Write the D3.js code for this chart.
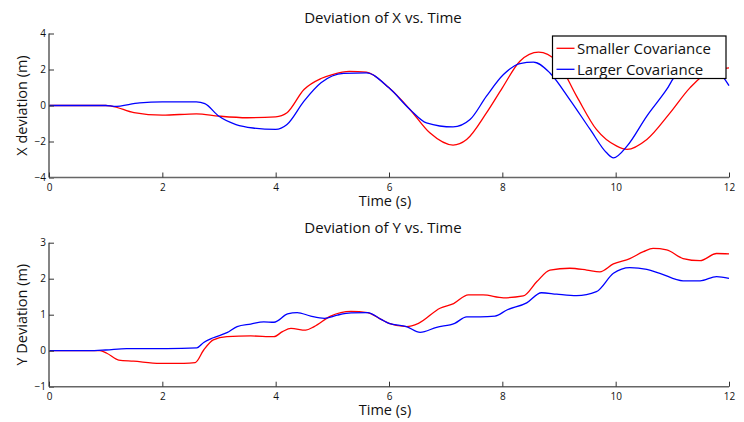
<!DOCTYPE html>
<html><head><meta charset="utf-8">
<script src="https://cdn.jsdelivr.net/npm/d3@7"></script>
<style>
body{margin:0;background:#fff;}
text{font-family:"Open Sans","Liberation Sans",sans-serif;fill:#111;}
</style></head>
<body><svg id="c" width="744" height="422"></svg>
<script>
// ---- data ----
const xTicks = [0,2,4,6,8,10,12];
const yTicksX = [-4,-2,0,2,4];
const yTicksY = [-1,0,1,2,3];
const seriesNames = ["Smaller Covariance","Larger Covariance"];

const tXRed = [0,0.5,1.0,1.1,1.5,2.0,2.6,3.0,3.5,4.0,4.2,4.5,4.8,5.0,5.3,5.6,6.0,6.37,6.72,7.13,7.37,7.72,8.0,8.31,8.64,8.96,9.31,9.66,10.02,10.2,10.55,10.96,11.31,11.66,12.0];
const xRed  = [0,0,0,-0.03,-0.4,-0.54,-0.46,-0.59,-0.68,-0.63,-0.4,0.89,1.5,1.72,1.9,1.85,0.98,-0.22,-1.52,-2.2,-1.89,-0.41,0.98,2.46,2.96,2.46,0.52,-1.33,-2.26,-2.44,-1.89,-0.41,0.98,1.9,2.09];
const tXBlue = [0,0.5,1.0,1.15,1.6,2.0,2.6,2.75,3.0,3.3,3.6,4.0,4.2,4.5,4.8,5.2,5.6,6.0,6.37,6.66,7.13,7.43,7.72,8.02,8.31,8.55,8.84,9.19,9.55,9.84,9.96,10.2,10.55,10.9,11.07,11.5,11.93,12.0];
const xBlue = [0,0,0,-0.05,0.15,0.2,0.2,0.1,-0.6,-1.06,-1.25,-1.33,-1.06,0.24,1.26,1.78,1.81,0.98,-0.22,-0.96,-1.19,-0.78,0.52,1.72,2.33,2.41,1.81,0.33,-1.33,-2.63,-2.91,-2.26,-0.59,0.89,1.72,2.35,1.44,1.1];

const tYRed = [0,0.5,0.9,1.02,1.23,1.49,1.96,2.38,2.58,2.73,2.9,3.14,3.56,3.97,4.12,4.27,4.53,4.68,4.97,5.33,5.62,5.86,6.0,6.31,6.52,6.9,7.14,7.4,7.66,8.02,8.37,8.61,8.84,9.19,9.49,9.72,9.96,10.25,10.49,10.66,10.9,11.19,11.49,11.78,12.0];
const yRed  = [0,0,0,-0.07,-0.26,-0.29,-0.35,-0.35,-0.33,0.02,0.3,0.39,0.41,0.39,0.53,0.62,0.57,0.67,0.96,1.09,1.06,0.87,0.76,0.67,0.76,1.18,1.31,1.55,1.55,1.47,1.52,1.92,2.24,2.29,2.24,2.19,2.41,2.56,2.75,2.84,2.8,2.56,2.5,2.7,2.69];
const tYBlue = [0,0.7,1.0,1.37,2.08,2.61,2.73,2.9,3.14,3.32,3.56,3.79,3.97,4.21,4.38,4.62,4.86,5.09,5.33,5.62,5.86,6.0,6.31,6.55,6.84,7.16,7.37,7.61,7.87,8.08,8.43,8.69,8.96,9.31,9.66,9.96,10.25,10.55,10.78,11.19,11.49,11.78,12.0];
const yBlue = [0,0,0.02,0.06,0.06,0.08,0.23,0.36,0.5,0.67,0.74,0.8,0.79,1.02,1.06,0.96,0.9,0.99,1.05,1.06,0.87,0.76,0.67,0.51,0.65,0.76,0.94,0.94,0.96,1.13,1.33,1.61,1.57,1.53,1.64,2.15,2.31,2.26,2.15,1.94,1.94,2.06,2.01];

const colors = ["#ff0000","#0000ff"];

// ---- drawing ----
const svg = d3.select("#c");
const x = d3.scaleLinear().domain([0,12]).range([49,729]);

function panel(cfg){
  const y = d3.scaleLinear().domain(cfg.domain).range([cfg.bottom,cfg.top]);
  const g = svg.append("g");
  const line = d3.line().x(d=>x(d[0])).y(d=>y(d[1])).curve(d3.curveMonotoneX);
  cfg.series.forEach((s,i)=>{
    g.append("path").datum(s.t.map((t,k)=>[t,s.v[k]]))
      .attr("d",line).attr("fill","none").attr("stroke",colors[i]).attr("stroke-width",1.3);
  });
  const ya = g.append("g").attr("transform",`translate(${x(0)},0)`)
    .call(d3.axisLeft(y).tickValues(cfg.yTicks).tickSize(-5).tickPadding(3).tickFormat(d=>d<0?"\u2212"+(-d):d));
  const xa = g.append("g").attr("transform",`translate(0,${cfg.bottom})`)
    .call(d3.axisBottom(x).tickValues(xTicks).tickSize(-5).tickPadding(6));
  [ya,xa].forEach(a=>{
    a.select(".domain").attr("stroke","#666").attr("stroke-width",1.6);
    a.selectAll(".tick line").attr("stroke","#333").attr("stroke-width",1);
    a.selectAll("text").style("font-size","10px").attr("fill","#111");
  });
  ya.select(".domain").attr("d",`M0,${cfg.top}V${cfg.bottom}`);
  xa.select(".domain").attr("d",`M${x(0)},0H${x(12)}`);
  g.append("text").attr("x",383).attr("y",cfg.titleY).attr("text-anchor","middle")
    .style("font-size","15px").text(cfg.title);
  g.append("text").attr("x",385).attr("y",cfg.bottom+28.5).attr("text-anchor","middle")
    .style("font-size","14.5px").text("Time (s)");
  g.append("text").attr("transform",`translate(27,${(cfg.top+cfg.bottom)/2}) rotate(-90)`)
    .attr("text-anchor","middle").style("font-size","14.5px").text(cfg.ylabel);
}

panel({domain:[-4,4],top:33.5,bottom:177.5,yTicks:yTicksX,title:"Deviation of X vs. Time",titleY:23,ylabel:"X deviation (m)",
  series:[{t:tXRed,v:xRed},{t:tXBlue,v:xBlue}]});
panel({domain:[-1,3],top:242.7,bottom:386.7,yTicks:yTicksY,title:"Deviation of Y vs. Time",titleY:232.5,ylabel:"Y Deviation (m)",
  series:[{t:tYRed,v:yRed},{t:tYBlue,v:yBlue}]});

// legend
const lg = svg.append("g");
lg.append("rect").attr("x",552.5).attr("y",36).attr("width",173.5).attr("height",42.5)
  .attr("fill","#fff").attr("stroke","#000").attr("stroke-width",1.2);
seriesNames.forEach((n,i)=>{
  const yy = 48.3 + i*21;
  lg.append("line").attr("x1",556.5).attr("x2",574.5).attr("y1",yy).attr("y2",yy).attr("stroke",colors[i]).attr("stroke-width",1.3);
  lg.append("text").attr("x",577).attr("y",yy+5.5).style("font-size","15px").text(n);
});
</script></body></html>
